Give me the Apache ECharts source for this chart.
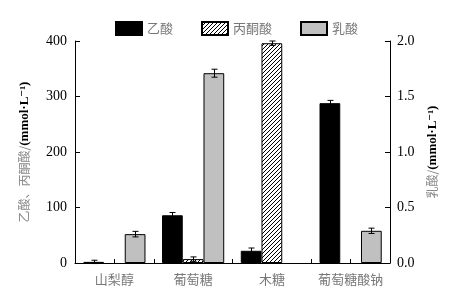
<!DOCTYPE html>
<html>
<head>
<meta charset="utf-8">
<script src="https://cdn.jsdelivr.net/npm/echarts@6/dist/echarts.min.js"></script>
<style>
  html, body { margin: 0; padding: 0; background: #fff; }
  #main { width: 450px; height: 293px; }
</style>
</head>
<body>
<div id="main"></div>
<script>
// 데이터
var categories = ['山梨醇', '葡萄糖', '木糖', '葡萄糖酸钠'];
var acetic = [2, 86, 22, 288];
var aceticErr = [3, 5, 5, 5];
var pyruvic = ['-', 7, 396, '-'];
var pyruvicErr = [null, 4, 4, null];
var lactic = [0.26, 1.71, '-', 0.29];
var lacticErr = [0.025, 0.036, null, 0.024];
var leftTicks = [0, 100, 200, 300, 400];
var rightTicks = [0, 0.5, 1.0, 1.5, 2.0];

var CN = '"Noto Sans CJK SC", sans-serif';
var SERIF = '"Liberation Serif", "DejaVu Serif", serif';

// 빗금 패턴
var cv = document.createElement('canvas');
cv.width = 4; cv.height = 4;
var ctx = cv.getContext('2d');
ctx.fillStyle = '#fff';
ctx.fillRect(0, 0, 4, 4);
ctx.strokeStyle = '#000';
ctx.lineWidth = 1;
ctx.beginPath();
ctx.moveTo(-1, 5); ctx.lineTo(5, -1);
ctx.moveTo(-1, 1); ctx.lineTo(1, -1);
ctx.moveTo(3, 5); ctx.lineTo(5, 3);
ctx.stroke();
var hatch = { image: cv, repeat: 'repeat' };

var GAP = 0.21;

// 오차 막대
function errSeries(idx, yIdx, vals, errs) {
  var data = vals.map(function (v, i) {
    return v === '-' || errs[i] == null ? [i, null, null] : [i, v, errs[i]];
  });
  return {
    type: 'custom',
    xAxisIndex: 0,
    yAxisIndex: yIdx,
    z: 10,
    clip: false,
    silent: true,
    data: data,
    renderItem: function (params, api) {
      var y = api.value(1), e = api.value(2);
      if (y == null || isNaN(y)) return;
      var band = api.size([1, 0])[0];
      var bw = band * (1 - GAP) / 3;
      var off = (idx - 1) * bw;
      var hi = api.coord([api.value(0), y + e]);
      var lo = api.coord([api.value(0), y - e]);
      var cx = Math.round(hi[0] + off) + 0.5;
      var st = { stroke: '#000', lineWidth: 1 };
      return {
        type: 'group',
        children: [
          { type: 'line', shape: { x1: cx, y1: hi[1], x2: cx, y2: lo[1] }, style: st },
          { type: 'line', shape: { x1: cx - 3, y1: hi[1], x2: cx + 3, y2: hi[1] }, style: st },
          { type: 'line', shape: { x1: cx - 3, y1: lo[1], x2: cx + 3, y2: lo[1] }, style: st }
        ]
      };
    }
  };
}

var chart = echarts.init(document.getElementById('main'));
var option = {
  backgroundColor: '#fff',
  animation: false,
  grid: { left: 75, right: 60, top: 41, bottom: 30 },
  legend: {
    left: 110,
    top: 16,
    icon: 'rect',
    itemWidth: 26,
    itemHeight: 13,
    itemGap: 28,
    data: ['乙酸', '丙酮酸', '乳酸'],
    textStyle: { fontFamily: CN, fontSize: 13, color: '#777' }
  },
  xAxis: [
    {
      type: 'category',
      data: categories,
      axisLine: { lineStyle: { color: '#000', width: 1 } },
      axisTick: { show: false },
      axisLabel: { interval: 0, fontFamily: CN, fontSize: 13, color: '#777', margin: 10 }
    },
    {
      type: 'value',
      min: 0, max: 8, interval: 1,
      position: 'bottom',
      axisLine: { show: false },
      axisTick: { show: true, inside: true, length: 4, lineStyle: { color: '#000' } },
      axisLabel: { show: false },
      splitLine: { show: false }
    }
  ],
  yAxis: [
    {
      type: 'value',
      min: leftTicks[0], max: leftTicks[leftTicks.length - 1], interval: 100,
      name: '{c|乙酸、丙酮酸/}{e|(mmol·L⁻¹)}',
      nameLocation: 'middle',
      nameRotate: 90,
      nameGap: 44,
      nameTextStyle: {
        rich: {
          c: { fontFamily: CN, fontSize: 12, color: '#888' },
          e: { fontFamily: SERIF, fontSize: 13, color: '#000', fontWeight: 'bold' }
        }
      },
      axisLine: { show: true, lineStyle: { color: '#000' } },
      axisTick: { show: true, inside: true, length: 5, lineStyle: { color: '#000' } },
      axisLabel: { fontFamily: SERIF, fontSize: 14, color: '#000', margin: 8 },
      splitLine: { show: false }
    },
    {
      type: 'value',
      min: rightTicks[0], max: rightTicks[rightTicks.length - 1], interval: 0.5,
      name: '{c|乳酸/}{e|(mmol·L⁻¹)}',
      nameLocation: 'middle',
      nameRotate: 90,
      nameGap: 36,
      nameTextStyle: {
        rich: {
          c: { fontFamily: CN, fontSize: 12, color: '#888' },
          e: { fontFamily: SERIF, fontSize: 13, color: '#000', fontWeight: 'bold' }
        }
      },
      axisLine: { show: true, lineStyle: { color: '#000' } },
      axisTick: { show: true, inside: true, length: 5, lineStyle: { color: '#000' } },
      axisLabel: {
        fontFamily: SERIF, fontSize: 14, color: '#000', margin: 7,
        formatter: function (v) { return v.toFixed(1); }
      },
      splitLine: { show: false }
    }
  ],
  series: [
    {
      name: '乙酸',
      type: 'bar',
      xAxisIndex: 0,
      yAxisIndex: 0,
      data: acetic,
      barGap: 0,
      barCategoryGap: (GAP * 100) + '%',
      itemStyle: { color: '#000', borderColor: '#000', borderWidth: 1 }
    },
    {
      name: '丙酮酸',
      type: 'bar',
      xAxisIndex: 0,
      yAxisIndex: 0,
      data: pyruvic,
      barGap: 0,
      barCategoryGap: (GAP * 100) + '%',
      itemStyle: { color: hatch, borderColor: '#000', borderWidth: 1 }
    },
    {
      name: '乳酸',
      type: 'bar',
      xAxisIndex: 0,
      yAxisIndex: 1,
      data: lactic,
      barGap: 0,
      barCategoryGap: (GAP * 100) + '%',
      itemStyle: { color: '#c0c0c0', borderColor: '#000', borderWidth: 1 }
    },
    errSeries(0, 0, acetic, aceticErr),
    errSeries(1, 0, pyruvic, pyruvicErr),
    errSeries(2, 1, lactic, lacticErr)
  ]
};
chart.setOption(option);
</script>
</body>
</html>
